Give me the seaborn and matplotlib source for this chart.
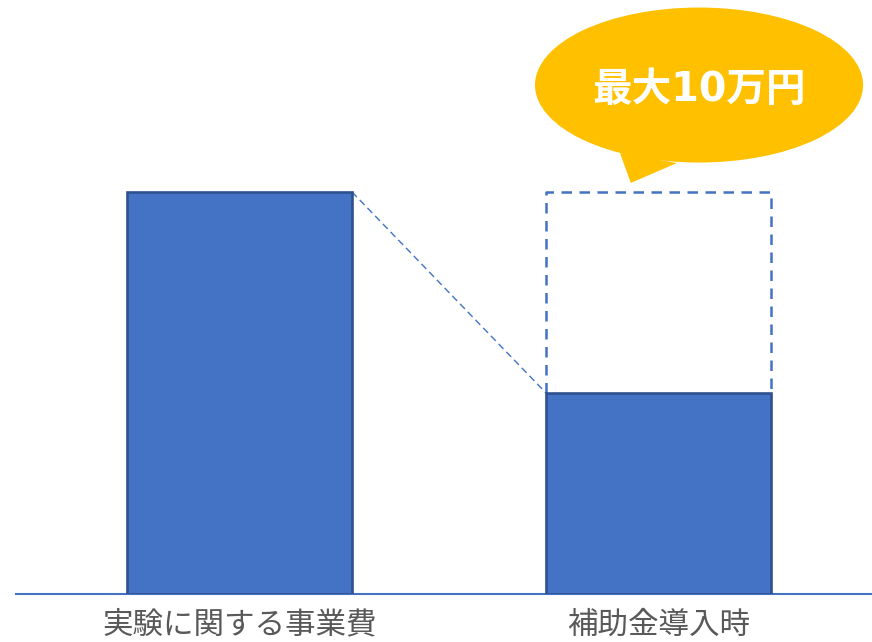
import matplotlib
matplotlib.use("Agg")
import matplotlib.pyplot as plt
import seaborn as sns
import pandas as pd
from matplotlib.patches import Ellipse, Polygon

categories = ["実験に関する事業費", "補助金導入時"]
costs = [20, 10]
subsidy = 10
bubble_text = "最大10万円"

sns.set_style("white")
plt.rcParams["font.family"] = ["Noto Sans CJK JP", "DejaVu Sans"]

fill = "#4472C4"
edge = "#2F528F"

fig = plt.figure(figsize=(8.72, 6.42), dpi=100)
ax = fig.add_axes([0, 48 / 642, 1, 594 / 642])

df = pd.DataFrame({"cat": categories, "val": costs})
bw = 0.537
sns.barplot(data=df, x="cat", y="val", ax=ax, width=bw, color=fill,
            edgecolor=edge, linewidth=1.9, saturation=1, zorder=3)

ax.set_xlim(-0.5716, 1.5095)
ax.set_ylim(0, 29.55)

# dashed outline of the subsidised part
x1 = 1 - bw / 2
top2 = costs[1] + subsidy
ax.plot([x1, x1, x1 + bw, x1 + bw], [costs[1], top2, top2, costs[1]],
        color=fill, lw=1.8, ls=(0, (4.2, 3.0)), zorder=2, solid_capstyle="butt")

# connector line from bar 1 top-right to bar 2 top-left
ax.plot([0 + bw / 2, x1], [costs[0], costs[1]], color=fill, lw=1.0,
        ls=(0, (5, 3)), zorder=2)

# speech bubble
cx, cy = 1.0967, top2 + 5.32
ax.add_patch(Ellipse((cx, cy), 0.783, 7.71, facecolor="#FFC000",
                     edgecolor="none", zorder=4))
ax.add_patch(Polygon([(0.908, top2 + 1.94), (0.934, top2 + 0.45),
                      (1.044, top2 + 1.44)], closed=True,
                     facecolor="#FFC000", edgecolor="none", zorder=4))
ax.text(cx, cy - 0.25, bubble_text, ha="center", va="center", color="white",
        fontsize=28.5, fontweight="bold", zorder=5,
        family=["DejaVu Sans", "Noto Sans CJK JP"])

for s in ["top", "left", "right"]:
    ax.spines[s].set_visible(False)
ax.spines["bottom"].set_color(fill)
ax.spines["bottom"].set_linewidth(1.5)
ax.spines["bottom"].set_bounds(-0.5334, 1.5095)
ax.spines["bottom"].set_zorder(1)

ax.set_yticks([])
ax.set_xlabel("")
ax.set_ylabel("")
ax.tick_params(axis="x", length=0, pad=11, labelsize=22, labelcolor="#595959")

fig.savefig("out.png", dpi=100)
